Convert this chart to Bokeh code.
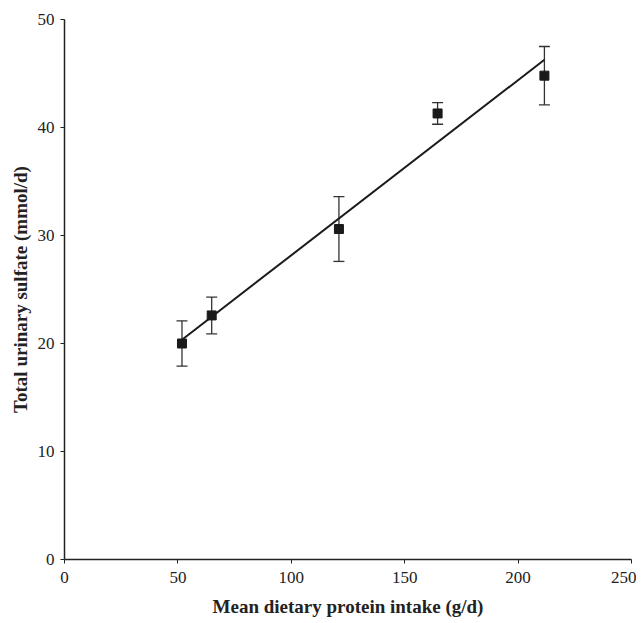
import numpy as np
from bokeh.plotting import figure
from bokeh.models import ColumnDataSource, Whisker, TeeHead, Range1d, FixedTicker
from bokeh.embed import file_html
from bokeh.resources import INLINE

# Data
protein_intake = [51.8, 64.9, 121.0, 164.5, 211.6]   # g/d
urinary_sulfate = [20.0, 22.6, 30.6, 41.3, 44.8]     # mmol/d
sulfate_err = [2.1, 1.7, 3.0, 1.0, 2.7]
x_ticks = [0, 50, 100, 150, 200, 250]
y_ticks = [0, 10, 20, 30, 40, 50]

FONT = "Liberation Serif"

p = figure(width=636, height=621, output_backend="svg", toolbar_location=None,
           x_range=Range1d(0, 250), y_range=Range1d(0, 50),
           min_border_left=64, min_border_right=5, min_border_top=19, min_border_bottom=62)
p.outline_line_color = None
p.grid.visible = False
p.background_fill_color = "white"
p.border_fill_color = "white"

src = ColumnDataSource(dict(
    x=protein_intake, y=urinary_sulfate,
    upper=[v + e for v, e in zip(urinary_sulfate, sulfate_err)],
    lower=[v - e for v, e in zip(urinary_sulfate, sulfate_err)],
))

# regression line fitted through the means
slope, intercept = np.polyfit(protein_intake, urinary_sulfate, 1)
xf = [min(protein_intake), max(protein_intake)]
yf = [intercept + slope * v for v in xf]
p.line(xf, yf, line_color="#1a1a1a", line_width=2)

w = Whisker(source=src, base="x", upper="upper", lower="lower",
            line_color="#333333", line_width=1.3,
            upper_head=TeeHead(size=11, line_color="#333333", line_width=1.3),
            lower_head=TeeHead(size=11, line_color="#333333", line_width=1.3))
p.add_layout(w)

p.scatter("x", "y", source=src, marker="square", size=9, fill_color="#1a1a1a",
          line_color="#1a1a1a")

for ax in (p.xaxis, p.yaxis):
    ax.axis_line_color = "#222222"
    ax.axis_line_width = 1.5
    ax.major_tick_line_color = "#222222"
    ax.major_tick_in = 0
    ax.major_tick_out = 4
    ax.minor_tick_line_color = None
    ax.major_label_text_font = FONT
    ax.major_label_text_font_size = "17px"
    ax.major_label_text_color = "#222222"
    ax.axis_label_text_font = FONT
    ax.axis_label_text_font_size = "19px"
    ax.axis_label_text_font_style = "bold"
    ax.axis_label_text_color = "#222222"

p.xaxis.ticker = FixedTicker(ticks=x_ticks)
p.yaxis.ticker = FixedTicker(ticks=y_ticks)
p.xaxis.axis_label = "Mean dietary protein intake (g/d)"
p.yaxis.axis_label = "Total urinary sulfate (mmol/d)"
p.xaxis.major_label_standoff = 8
p.yaxis.major_label_standoff = 6
p.xaxis.axis_label_standoff = 10
p.yaxis.axis_label_standoff = 4

open("out.html", "w").write(file_html(p, INLINE))
